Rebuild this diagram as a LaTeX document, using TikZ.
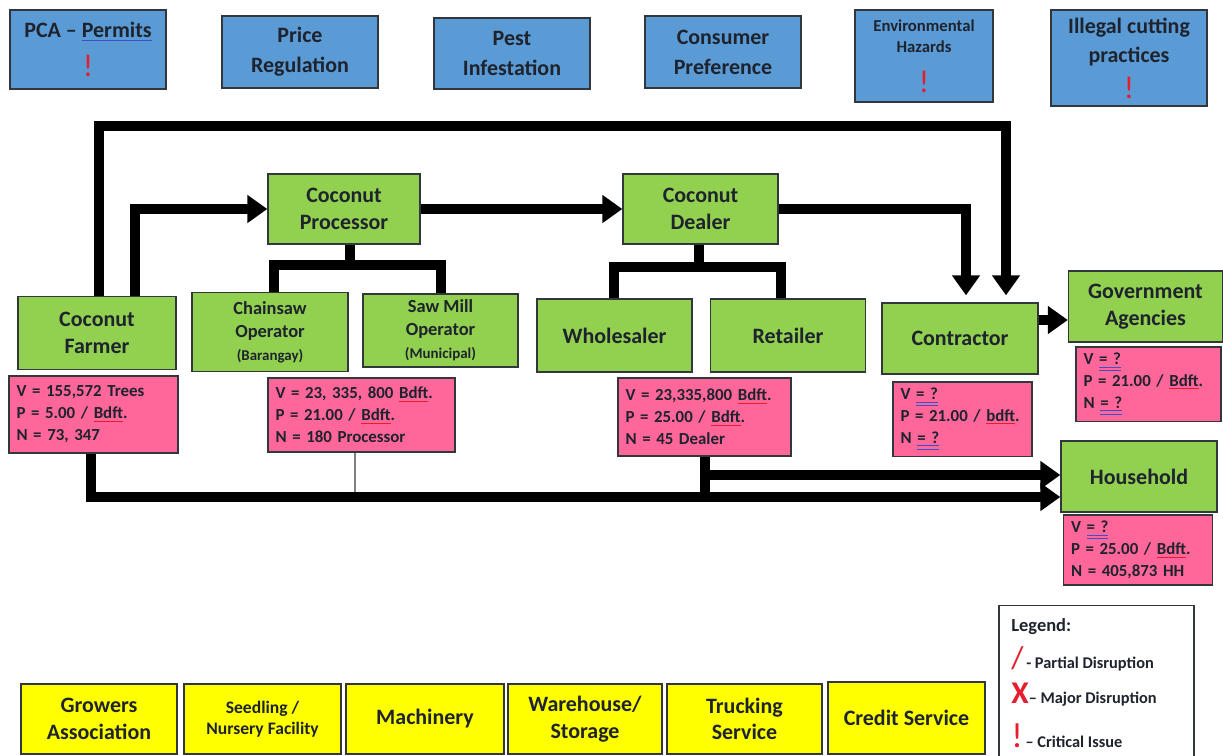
\documentclass[tikz,border=0pt]{standalone}
\usepackage{fontspec}
\setmainfont{Carlito}
\usepackage{xcolor}
\definecolor{factorcolour}{RGB}{91,155,213}
\definecolor{actorcolour}{RGB}{146,208,80}
\definecolor{datacolour}{RGB}{255,102,153}
\definecolor{supportcolour}{RGB}{255,255,0}
\definecolor{issuecolour}{RGB}{228,30,45}
\definecolor{linkcolour}{RGB}{60,80,200}
\definecolor{textcolour}{RGB}{30,35,45}
\definecolor{framecolour}{RGB}{50,55,60}
\usetikzlibrary{arrows.meta}
\newcommand{\issue}{\textcolor{issuecolour}{\mdseries\fontsize{18}{18}\selectfont !}}
\newcommand{\linkmark}[1]{\textcolor{linkcolour}{\underline{\textcolor{textcolour}{#1}}}}
\newcommand{\spell}[1]{\textcolor{issuecolour}{\underline{\textcolor{textcolour}{#1}}}}
\newcommand{\gram}[1]{\textcolor{linkcolour}{\underline{\underline{\textcolor{textcolour}{#1}}}}}
\tikzstyle{factor} = [rectangle, minimum width=3.12cm, minimum height=1.44cm, align=center, draw=framecolour, line width=0.8pt, fill=factorcolour, text=textcolour, font=\bfseries\fontsize{12.5}{17}\selectfont]
\tikzstyle{actor} = [rectangle, minimum width=3.1cm, minimum height=1.46cm, align=center, draw=framecolour, line width=0.8pt, fill=actorcolour, text=textcolour, font=\bfseries\fontsize{12.5}{15.5}\selectfont]
\tikzstyle{operator} = [actor, font=\bfseries\fontsize{10.5}{13}\selectfont]
\tikzstyle{data} = [rectangle, minimum height=1.48cm, inner xsep=0.15cm, align=left, draw=framecolour, line width=0.8pt, fill=datacolour, text=textcolour, font=\bfseries\fontsize{9.6}{12.5}\selectfont]
\tikzstyle{support} = [rectangle, minimum width=3.12cm, minimum height=1.4cm, align=center, draw=framecolour, line width=0.8pt, fill=supportcolour, text=textcolour, font=\bfseries\fontsize{12.5}{15}\selectfont]
\tikzstyle{legendbox} = [rectangle, minimum width=3.9cm, minimum height=3.1cm, draw=framecolour, line width=0.8pt, fill=white]
\tikzstyle{legenditem} = [anchor=west, inner sep=0pt, text=textcolour, font=\bfseries\fontsize{9.3}{11}\selectfont]
\tikzstyle{arrow} = [line width=0.2cm, -{Triangle[length=0.4cm 0, width=0.54cm 0]}]
\tikzstyle{flowline} = [line width=0.2cm]
\tikzstyle{tree} = [line width=0.19cm]

\begin{document}
\begin{tikzpicture}[x=0.02cm, y=-0.02cm]
	\useasboundingbox (0,0) rectangle (1223,755);
	\node (pca) [factor, minimum height=1.58cm] at (88,49.5) {PCA – \linkmark{Permits}\\[5pt]\issue};
	\node (price) [factor] at (300,52) {Price\\Regulation};
	\node (pest) [factor, minimum height=1.42cm] at (512,53.5) {Pest\\Infestation};
	\node (consumer) [factor] at (723,52) {Consumer\\Preference};
	\node (hazards) [factor, minimum width=2.76cm, minimum height=1.84cm, font=\bfseries\fontsize{9.5}{12.5}\selectfont] at (924,56) {Environmental\\Hazards\\[10pt]\issue};
	\node (illegal) [factor, minimum height=1.92cm] at (1129,58) {Illegal cutting\\practices\\[3pt]\issue};
	\node (processor) [actor, minimum width=3.04cm, minimum height=1.4cm] at (344,209) {Coconut\\Processor};
	\node (dealer) [actor, minimum height=1.4cm] at (700.5,209) {Coconut\\Dealer};
	\node (farmer) [actor, minimum width=3.16cm] at (97,333) {Coconut\\Farmer};
	\node (chainsaw) [operator, minimum width=3.12cm, minimum height=1.58cm] at (270,332) {Chainsaw\\Operator\\{\fontsize{8.5}{10}\selectfont (Barangay)}};
	\node (sawmill) [operator] at (440.5,330.5) {Saw Mill\\Operator\\{\fontsize{8.5}{10}\selectfont (Municipal)}};
	\node (wholesaler) [actor] at (614.5,335.5) {Wholesaler};
	\node (retailer) [actor] at (788,335.5) {Retailer};
	\node (contractor) [actor, minimum width=3.12cm, minimum height=1.42cm] at (960,338.5) {Contractor};
	\node (government) [actor, minimum width=3.08cm, minimum height=1.42cm] at (1145.5,306.5) {Government\\Agencies};
	\node (household) [actor, minimum width=3.12cm, minimum height=1.42cm] at (1139,476.5) {Household};
	\node (farmerdata) [data, text width=3.08cm, minimum height=1.54cm] at (93.5,414.5) {V = 155,572 Trees\\P = 5.00 / \spell{Bdft}.\\N = 73, 347};
	\node (processordata) [data, text width=3.44cm] at (361.5,415) {V = 23, 335, 800 \spell{Bdft}.\\P = 21.00 / \spell{Bdft}.\\N = 180 Processor};
	\node (dealerdata) [data, text width=3.16cm, minimum height=1.56cm] at (704.5,417) {V = 23,335,800 \spell{Bdft}.\\P = 25.00 / \spell{Bdft}.\\N = 45 Dealer};
	\node (contractordata) [data, text width=2.48cm] at (962.5,419) {V \gram{= ?}\\P = 21.00 / \spell{bdft}.\\N \gram{= ?}};
	\node (governmentdata) [data, text width=2.6cm, minimum height=1.44cm] at (1148.5,384) {V \gram{= ?}\\P = 21.00 / \spell{Bdft}.\\N \gram{= ?}};
	\node (householddata) [data, text width=2.68cm, minimum height=1.4cm] at (1138,550) {V \gram{= ?}\\P = 25.00 / \spell{Bdft}.\\N = 405,873 HH};
	\node (growers) [support] at (99,719) {Growers\\Association};
	\node (seedling) [support, minimum width=3.14cm, font=\bfseries\fontsize{10}{12}\selectfont] at (262.5,719) {Seedling /\\Nursery Facility};
	\node (machinery) [support, minimum width=3.16cm] at (425,719) {Machinery};
	\node (warehouse) [support, minimum width=3.08cm] at (585,719) {Warehouse/\\Storage};
	\node (trucking) [support, minimum width=3.1cm] at (744.5,719) {Trucking\\Service};
	\node (credit) [support, minimum width=3.14cm, minimum height=1.44cm] at (906.5,718) {Credit Service};
	\node (legend) [legendbox] at (1096.5,683) {};
	\node (legendtitle) [legenditem, font=\bfseries\fontsize{10.5}{12}\selectfont] at (1011,627) {Legend:};
	\node (partial) [legenditem] at (1011,659) {{\color{issuecolour}\mdseries\fontsize{18}{18}\selectfont /}\,- Partial Disruption};
	\node (major) [legenditem] at (1011,695) {{\color{issuecolour}\fontsize{18}{18}\selectfont X}– Major Disruption};
	\node (critical) [legenditem] at (1011,736) {{\color{issuecolour}\mdseries\fontsize{20}{20}\selectfont !}\,– Critical Issue};
	\coordinate (loopbend) at (1006,126);
	\coordinate (processortree) at (350,265);
	\coordinate (dealertree) at (699,267);
	\draw [gray, line width=1pt] (processordata.south -| 355,0) -- (355,494);
	\draw [arrow, shorten >=0.14cm] (farmer.north -| 99,0) |- (loopbend) -- (loopbend |- contractor.north);
	\draw [arrow] (farmer.north -| 135,0) |- (processor.west);
	\draw [arrow] (processor.east) -- (dealer.west);
	\draw [arrow, shorten >=0.14cm] (dealer.east) -| (contractor.north -| 966,0);
	\draw [arrow] (contractor.east |- 0,320) -- (government.west |- 0,320);
	\draw [tree] (processor.south -| processortree) -- (processortree);
	\draw [tree] (chainsaw.north -| 274,0) |- (processortree) -| (sawmill.north -| 441,0);
	\draw [tree] (dealer.south -| dealertree) -- (dealertree);
	\draw [tree] (wholesaler.north -| 614,0) |- (dealertree) -| (retailer.north -| 781,0);
	\draw [arrow] (farmerdata.south -| 91,0) |- (household.west |- 0,497);
	\draw [flowline] (dealerdata.south) -- (dealerdata.south |- 0,497);
	\draw [arrow] (dealerdata.south |- 0,475) -- (household.west |- 0,475);
\end{tikzpicture}
\end{document}
